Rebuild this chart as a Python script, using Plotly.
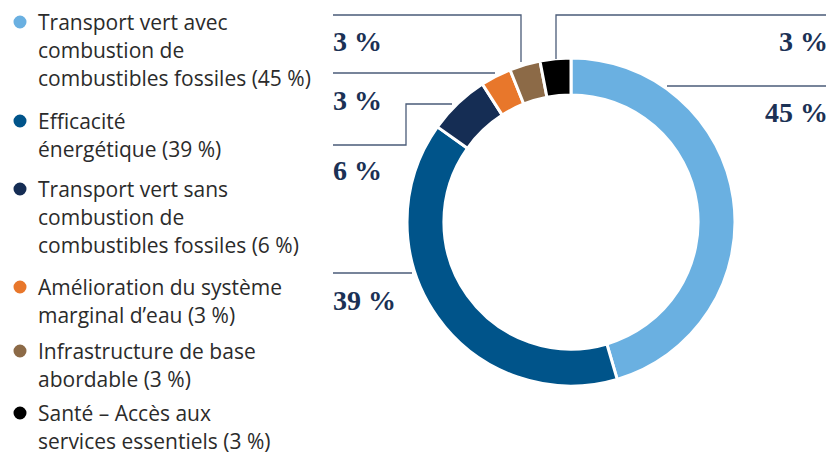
import plotly.graph_objects as go

# slice data (clockwise from 12 o'clock)
categories = [
    "Transport vert avec<br>combustion de<br>combustibles fossiles (45 %)",
    "Efficacité<br>énergétique (39 %)",
    "Transport vert sans<br>combustion de<br>combustibles fossiles (6 %)",
    "Amélioration du système<br>marginal d’eau (3 %)",
    "Infrastructure de base<br>abordable (3 %)",
    "Santé – Accès aux<br>services essentiels (3 %)",
]
values = [45, 39, 6, 3, 3, 3]
value_labels = ["45 %", "39 %", "6 %", "3 %", "3 %", "3 %"]
colors = ["#6ab0e1", "#00548a", "#152d54", "#e8772b", "#8c6a47", "#000000"]

W, H = 833, 458
label_color = "#1b3155"
line_color = "#4a5b78"


def px(x):
    return x / W


def py(y):
    return 1 - y / H


fig = go.Figure()
fig.add_trace(go.Pie(
    values=values,
    labels=[c.replace("<br>", " ") for c in categories],
    marker=dict(colors=colors, line=dict(color="white", width=3)),
    hole=0.775,
    sort=False,
    direction="clockwise",
    rotation=0,
    textinfo="none",
    hoverinfo="label+percent",
    showlegend=False,
    domain=dict(x=[px(407), px(735)], y=[py(386), py(58)]),
))

# legend drawn by hand: circle + one annotation per text line
legend_tops = [22, 121, 189, 287, 351, 413]
line_pitch = 28
shapes = []
annotations = []
for cat, col, ytop in zip(categories, colors, legend_tops):
    shapes.append(dict(type="circle", xref="paper", yref="paper",
                       x0=px(13.5), x1=px(26.5), y0=py(ytop - 6.5), y1=py(ytop + 6.5),
                       fillcolor=col, line=dict(width=0)))
    for k, txt in enumerate(cat.split("<br>")):
        annotations.append(dict(x=px(36), y=py(ytop + k * line_pitch), xref="paper", yref="paper",
                                text=txt, showarrow=False, xanchor="left", yanchor="middle",
                                align="left",
                                font=dict(family="Open Sans", size=21, color="#2b2b2b")))

# leader lines and value labels (order matches values)
leaders = [
    [(667, 86), (826, 86)],
    [(333, 273), (412, 273)],
    [(333, 145), (406, 145), (406, 104), (452, 104)],
    [(333, 73), (495, 73)],
    [(333, 15), (521, 15), (521, 62)],
    [(556, 59), (556, 15), (826, 15)],
]
label_pos = [(830, 112, "right"), (331, 300, "left"), (331, 170, "left"),
             (331, 100, "left"), (331, 42, "left"), (830, 42, "right")]

for pts, lab, (lx, ly, anc) in zip(leaders, value_labels, label_pos):
    path = "M " + " L ".join(f"{px(x)},{py(y)}" for x, y in pts)
    shapes.append(dict(type="path", xref="paper", yref="paper", path=path,
                       line=dict(color=line_color, width=1.3)))
    annotations.append(dict(x=px(lx), y=py(ly), xref="paper", yref="paper",
                            text=f"<b>{lab}</b>", showarrow=False, xanchor=anc,
                            yanchor="middle",
                            font=dict(family="Liberation Serif", size=28, color=label_color)))

fig.update_layout(
    width=W, height=H,
    margin=dict(l=0, r=0, t=0, b=0),
    paper_bgcolor="white",
    plot_bgcolor="white",
    shapes=shapes,
    annotations=annotations,
)

fig.write_html("out.html", config={"displayModeBar": False},
               post_script="document.body.style.margin='0';")
